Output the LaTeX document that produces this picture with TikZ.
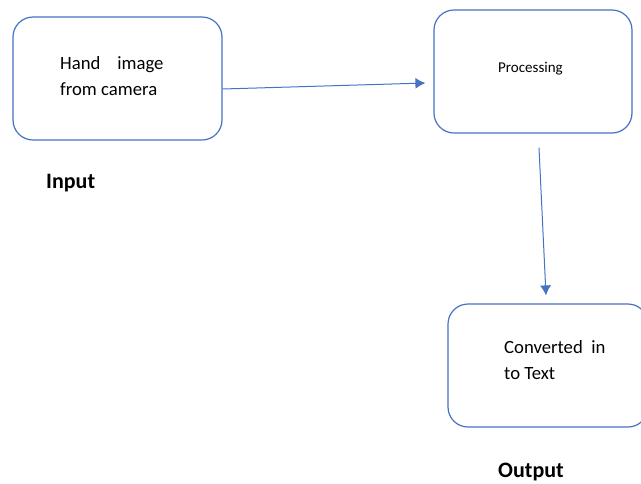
\documentclass[tikz,border=0pt]{standalone}
\usepackage{fontspec}
\setmainfont{Carlito}
\usetikzlibrary{calc}
\usetikzlibrary{arrows.meta}
\usepackage{xcolor}
\definecolor{boxblue}{HTML}{4472C4}

\begin{document}
\begin{tikzpicture}[x=1pt,y=-1pt,
  block/.style={draw=boxblue,line width=1.2pt,rounded corners=20pt,minimum width=#1,minimum height=123pt,inner sep=0pt},
  txt/.style={anchor=base west,inner sep=0pt,align=left,font=\fontsize{18.7}{25.5}\selectfont},
  title/.style={anchor=base west,inner sep=0pt,font=\fontsize{22}{26}\selectfont\bfseries},
  flow/.style={line width=1pt,boxblue,arrows={-{Latex[length=10pt,width=11pt]}}}]
\useasboundingbox (0,0) rectangle (641,483);

\node[block=209pt] (input) at (117.5,78.5) {};
\node[block=198pt] (proc) at (533,71.5) {};
\node[block=200pt] (output) at (548,365.5) {};

% base of a two-line node sits on its last line
\node[txt] (inputtxt) at (60,95) {Hand\ \ \ \ image\\from camera};
\node[txt,font=\fontsize{15}{18}\selectfont] (proctxt) at (498,72.7) {Processing};
\node[txt] (outputtxt) at (504,379) {Converted\ \ in\\to Text};

\node[title] (inputlbl) at (46,188) {Input};
\node[title] (outputlbl) at (498,477) {Output};

\draw[flow] ($(input.east)+(0,10.5)$) -- ($(proc.west)+(-8,11.5)$);
\draw[flow] ($(proc.south)+(6,14)$) -- ($(output.north)+(-2,-8)$);

\end{tikzpicture}
\end{document}
